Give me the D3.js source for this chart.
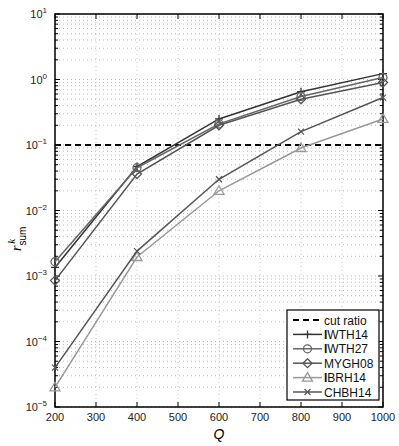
<!DOCTYPE html>
<html>
<head>
<meta charset="utf-8">
<script src="https://cdn.jsdelivr.net/npm/d3@7"></script>
<style>
  body { margin: 0; background: #fff; }
  text { font-family: "Liberation Sans", Arial, sans-serif; }
</style>
</head>
<body>
<div id="chart"></div>
<script>
const qValues = [200, 400, 600, 800, 1000];
const cutRatio = 0.1;
const iwth14 = [1.35e-3, 0.047, 0.25, 0.65, 1.23];
const iwth27 = [1.65e-3, 0.045, 0.21, 0.55, 1.07];
const mygh08 = [8.5e-4, 0.036, 0.20, 0.50, 0.90];
const ibrh14 = [2.0e-5, 1.95e-3, 0.020, 0.090, 0.25];
const chbh14 = [4.0e-5, 2.4e-3, 0.030, 0.160, 0.53];
const xTicks = [200, 300, 400, 500, 600, 700, 800, 900, 1000];
const yExps = [-5, -4, -3, -2, -1, 0, 1];

const series = [
  { name: "IWTH14", values: iwth14, color: "#333", marker: "plus" },
  { name: "IWTH27", values: iwth27, color: "#666", marker: "circle" },
  { name: "MYGH08", values: mygh08, color: "#555", marker: "diamond" },
  { name: "IBRH14", values: ibrh14, color: "#999", marker: "triangle" },
  { name: "CHBH14", values: chbh14, color: "#555", marker: "cross" }
];

const W = 399, H = 446;
const margin = { left: 55, right: 16, top: 14, bottom: 39 };
const innerW = W - margin.left - margin.right;
const innerH = H - margin.top - margin.bottom;

const svg = d3.select("#chart").append("svg").attr("width", W).attr("height", H);
const g = svg.append("g").attr("transform", `translate(${margin.left},${margin.top})`);

const x = d3.scaleLinear().domain([200, 1000]).range([0, innerW]);
const y = d3.scaleLog().domain([1e-5, 10]).range([innerH, 0]);

// grid
const minorVals = [];
for (let e = -5; e < 1; e++) for (let m = 1; m < 10; m++) minorVals.push(m * Math.pow(10, e));
minorVals.push(10);
g.append("g").selectAll("line").data(minorVals).join("line")
  .attr("x1", 0).attr("x2", innerW)
  .attr("y1", d => y(d)).attr("y2", d => y(d))
  .attr("stroke", "#aaa").attr("stroke-width", 0.8).attr("stroke-dasharray", "1,3");
g.append("g").selectAll("line").data(xTicks).join("line")
  .attr("x1", d => x(d)).attr("x2", d => x(d))
  .attr("y1", 0).attr("y2", innerH)
  .attr("stroke", "#bbb").attr("stroke-width", 0.8).attr("stroke-dasharray", "1,3");

// axes with inward ticks
const tickLen = 5, minorLen = 3;
const tickG = g.append("g").attr("stroke", "#000").attr("stroke-width", 1);
xTicks.forEach(v => {
  tickG.append("line").attr("x1", x(v)).attr("x2", x(v)).attr("y1", innerH).attr("y2", innerH - tickLen);
  tickG.append("line").attr("x1", x(v)).attr("x2", x(v)).attr("y1", 0).attr("y2", tickLen);
});
minorVals.forEach(v => {
  const major = Math.abs(Math.log10(v) - Math.round(Math.log10(v))) < 1e-9;
  const len = major ? tickLen : minorLen;
  tickG.append("line").attr("x1", 0).attr("x2", len).attr("y1", y(v)).attr("y2", y(v));
  tickG.append("line").attr("x1", innerW).attr("x2", innerW - len).attr("y1", y(v)).attr("y2", y(v));
});
g.append("rect").attr("width", innerW).attr("height", innerH)
  .attr("fill", "none").attr("stroke", "#000").attr("stroke-width", 1.5);

// tick labels
g.append("g").selectAll("text").data(xTicks).join("text")
  .attr("x", d => x(d)).attr("y", innerH + 14)
  .attr("text-anchor", "middle").attr("font-size", 11).attr("fill", "#222")
  .text(d => d);
const yl = g.append("g").selectAll("text").data(yExps).join("text")
  .attr("x", -8).attr("y", d => y(Math.pow(10, d)) + 4)
  .attr("text-anchor", "end").attr("font-size", 11).attr("fill", "#222");
yl.append("tspan").text("10");
yl.append("tspan").attr("dy", -5).attr("font-size", 8).text(d => d < 0 ? "\u2212" + (-d) : d);

// axis titles
g.append("text").attr("x", innerW / 2).attr("y", innerH + 32)
  .attr("text-anchor", "middle").attr("font-family", "Liberation Serif, serif")
  .attr("font-style", "italic").attr("font-size", 14).text("Q");
const ylab = g.append("text")
  .attr("transform", `translate(-34,237) rotate(-90)`)
  .attr("text-anchor", "start").attr("font-size", 14);
ylab.append("tspan").attr("font-family", "Liberation Serif, serif").attr("font-style", "italic").text("r");
ylab.append("tspan").attr("dy", 5).attr("font-size", 10).text("sum");
ylab.append("tspan").attr("dx", -17).attr("dy", -11).attr("font-size", 11)
  .attr("font-family", "Liberation Serif, serif").attr("font-style", "italic").text("k");

// cut ratio
g.append("line").attr("x1", 0).attr("x2", innerW)
  .attr("y1", y(cutRatio)).attr("y2", y(cutRatio))
  .attr("stroke", "#000").attr("stroke-width", 2).attr("stroke-dasharray", "6,4");

function drawMarker(sel, type, cx, cy, color) {
  const s = 4;
  if (type === "plus") {
    sel.append("path").attr("d", `M${cx - s},${cy}H${cx + s}M${cx},${cy - s}V${cy + s}`)
      .attr("stroke", color).attr("stroke-width", 1.3).attr("fill", "none");
  } else if (type === "circle") {
    sel.append("circle").attr("cx", cx).attr("cy", cy).attr("r", 4)
      .attr("stroke", color).attr("stroke-width", 1.3).attr("fill", "none");
  } else if (type === "diamond") {
    sel.append("path").attr("d", `M${cx},${cy - 4.5}L${cx + 4.5},${cy}L${cx},${cy + 4.5}L${cx - 4.5},${cy}Z`)
      .attr("stroke", color).attr("stroke-width", 1.3).attr("fill", "none");
  } else if (type === "triangle") {
    sel.append("path").attr("d", `M${cx},${cy - 5}L${cx + 5},${cy + 3.5}L${cx - 5},${cy + 3.5}Z`)
      .attr("stroke", color).attr("stroke-width", 1.3).attr("fill", "none");
  } else if (type === "cross") {
    sel.append("path").attr("d", `M${cx - 3},${cy - 3}L${cx + 3},${cy + 3}M${cx - 3},${cy + 3}L${cx + 3},${cy - 3}`)
      .attr("stroke", color).attr("stroke-width", 1.2).attr("fill", "none");
  }
}

const line = d3.line().x((d, i) => x(qValues[i])).y(d => y(d));
series.forEach(s => {
  const sg = g.append("g");
  sg.append("path").attr("d", line(s.values))
    .attr("fill", "none").attr("stroke", s.color).attr("stroke-width", 1.5);
  s.values.forEach((v, i) => drawMarker(sg, s.marker, x(qValues[i]), y(v), s.color));
});

// legend
const lg = g.append("g").attr("transform", `translate(${287 - margin.left},${310 - margin.top})`);
lg.append("rect").attr("width", 92).attr("height", 90)
  .attr("fill", "#fff").attr("stroke", "#000").attr("stroke-width", 1.2);
const entries = [{ name: "cut ratio", color: "#000", marker: null }].concat(series);
entries.forEach((e, i) => {
  const ey = 10 + i * 14.4;
  if (e.marker === null) {
    lg.append("line").attr("x1", 6).attr("x2", 35).attr("y1", ey).attr("y2", ey)
      .attr("stroke", "#000").attr("stroke-width", 2).attr("stroke-dasharray", "6,4");
  } else {
    lg.append("line").attr("x1", 6).attr("x2", 35).attr("y1", ey).attr("y2", ey)
      .attr("stroke", e.color).attr("stroke-width", 1.5);
    drawMarker(lg, e.marker, 20.5, ey, e.color);
  }
  const t = lg.append("text").attr("x", 37).attr("y", ey + 4.5).attr("font-size", 12).attr("fill", "#111");
  if (e.name[0] === "I") {
    t.append("tspan").attr("font-weight", "bold").text("I");
    t.append("tspan").text(e.name.slice(1));
  } else {
    t.text(e.name);
  }
});
</script>
</body>
</html>
